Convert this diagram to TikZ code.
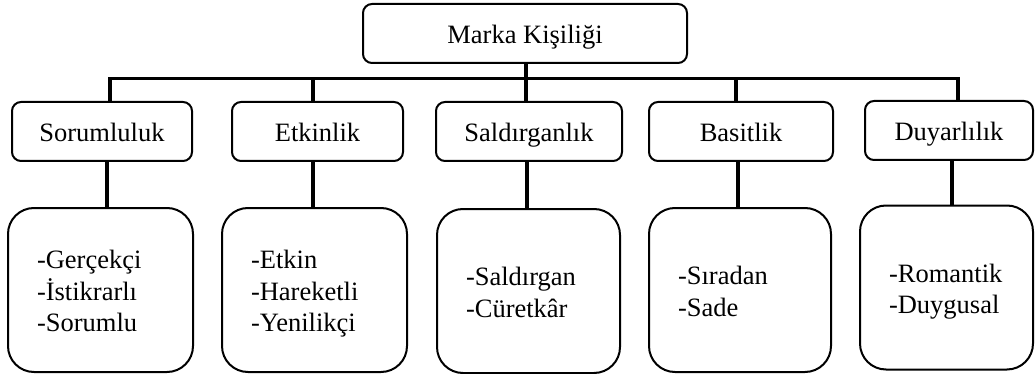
\documentclass[tikz,border=0pt]{standalone}
\usepackage{fontspec}
\setmainfont{Liberation Serif}
\begin{document}
\begin{tikzpicture}[x=1pt,y=-1pt,
  every node/.style={font=\fontsize{26.5}{31.5}\selectfont},
  box/.style={draw, line width=2pt, rounded corners=9pt, inner sep=0pt,
              text height=25pt, text depth=4pt, minimum height=59pt},
  leaf/.style={draw, line width=2pt, rounded corners=26pt, inner ysep=0pt,
               inner xsep=29pt, minimum height=164pt, align=left,
               text height=30.05pt},
  three/.style={leaf, text depth=72.45pt},
  two/.style={leaf, text depth=40.95pt},
  conn/.style={line width=3.3pt, line join=miter},
  busline/.style={line width=3pt}]
\useasboundingbox (0,0) rectangle (1035,374);

% root
\node[box, minimum width=324pt] (top) at (525,33.5) {Marka Kişiliği};

% dimensions
\node[box, minimum width=180pt] (s1) at (102,131.5) {Sorumluluk};
\node[box, minimum width=171pt] (s2) at (317.5,131.5) {Etkinlik};
\node[box, minimum width=186pt] (s3) at (529,131.5) {Saldırganlık};
\node[box, minimum width=184pt] (s4) at (741,131.5) {Basitlik};
\node[box, minimum width=168pt] (s5) at (949,130.5) {Duyarlılık};

% traits
\node[three, text width=127pt] (b1) at (100.5,290) {\strut-Gerçekçi\\\strut-İstikrarlı\\\strut-Sorumlu};
\node[three, text width=127pt] (b2) at (314.5,290) {\strut-Etkin\\\strut-Hareketli\\\strut-Yenilikçi};
\node[two, text width=125pt] (b3) at (528.5,291) {\strut-Saldırgan\\\strut-Cüretkâr};
\node[two, text width=124pt] (b4) at (740,290) {\strut-Sıradan\\\strut-Sade};
\node[two, text width=115pt] (b5) at (946.5,287.5) {\strut-Romantik\\\strut-Duygusal};

% bus junctions
\coordinate (j1) at (110,79);
\coordinate (j2) at (313,79);
\coordinate (j3) at (526,79);
\coordinate (j4) at (736,79);
\coordinate (j5) at (958,79);

\draw[busline] ([xshift=-1.65pt]j1) -- ([xshift=1.65pt]j5);
\draw[conn] (top.south -| j3) -- (j3);
\draw[conn] (j1) -- (j1 |- s1.north);
\draw[conn] (j2) -- (j2 |- s2.north);
\draw[conn] (j3) -- (j3 |- s3.north);
\draw[conn] (j4) -- (j4 |- s4.north);
\draw[conn] (j5) -- (j5 |- s5.north);

% dimension to traits
\draw[conn] ([xshift=5pt]s1.south) -- ([xshift=5pt]s1.south |- b1.north);
\draw[conn] ([xshift=-4.5pt]s2.south) -- ([xshift=-4.5pt]s2.south |- b2.north);
\draw[conn] ([xshift=-2pt]s3.south) -- ([xshift=-2pt]s3.south |- b3.north);
\draw[conn] ([xshift=-3pt]s4.south) -- ([xshift=-3pt]s4.south |- b4.north);
\draw[conn] ([xshift=3pt]s5.south) -- ([xshift=3pt]s5.south |- b5.north);
\end{tikzpicture}
\end{document}
